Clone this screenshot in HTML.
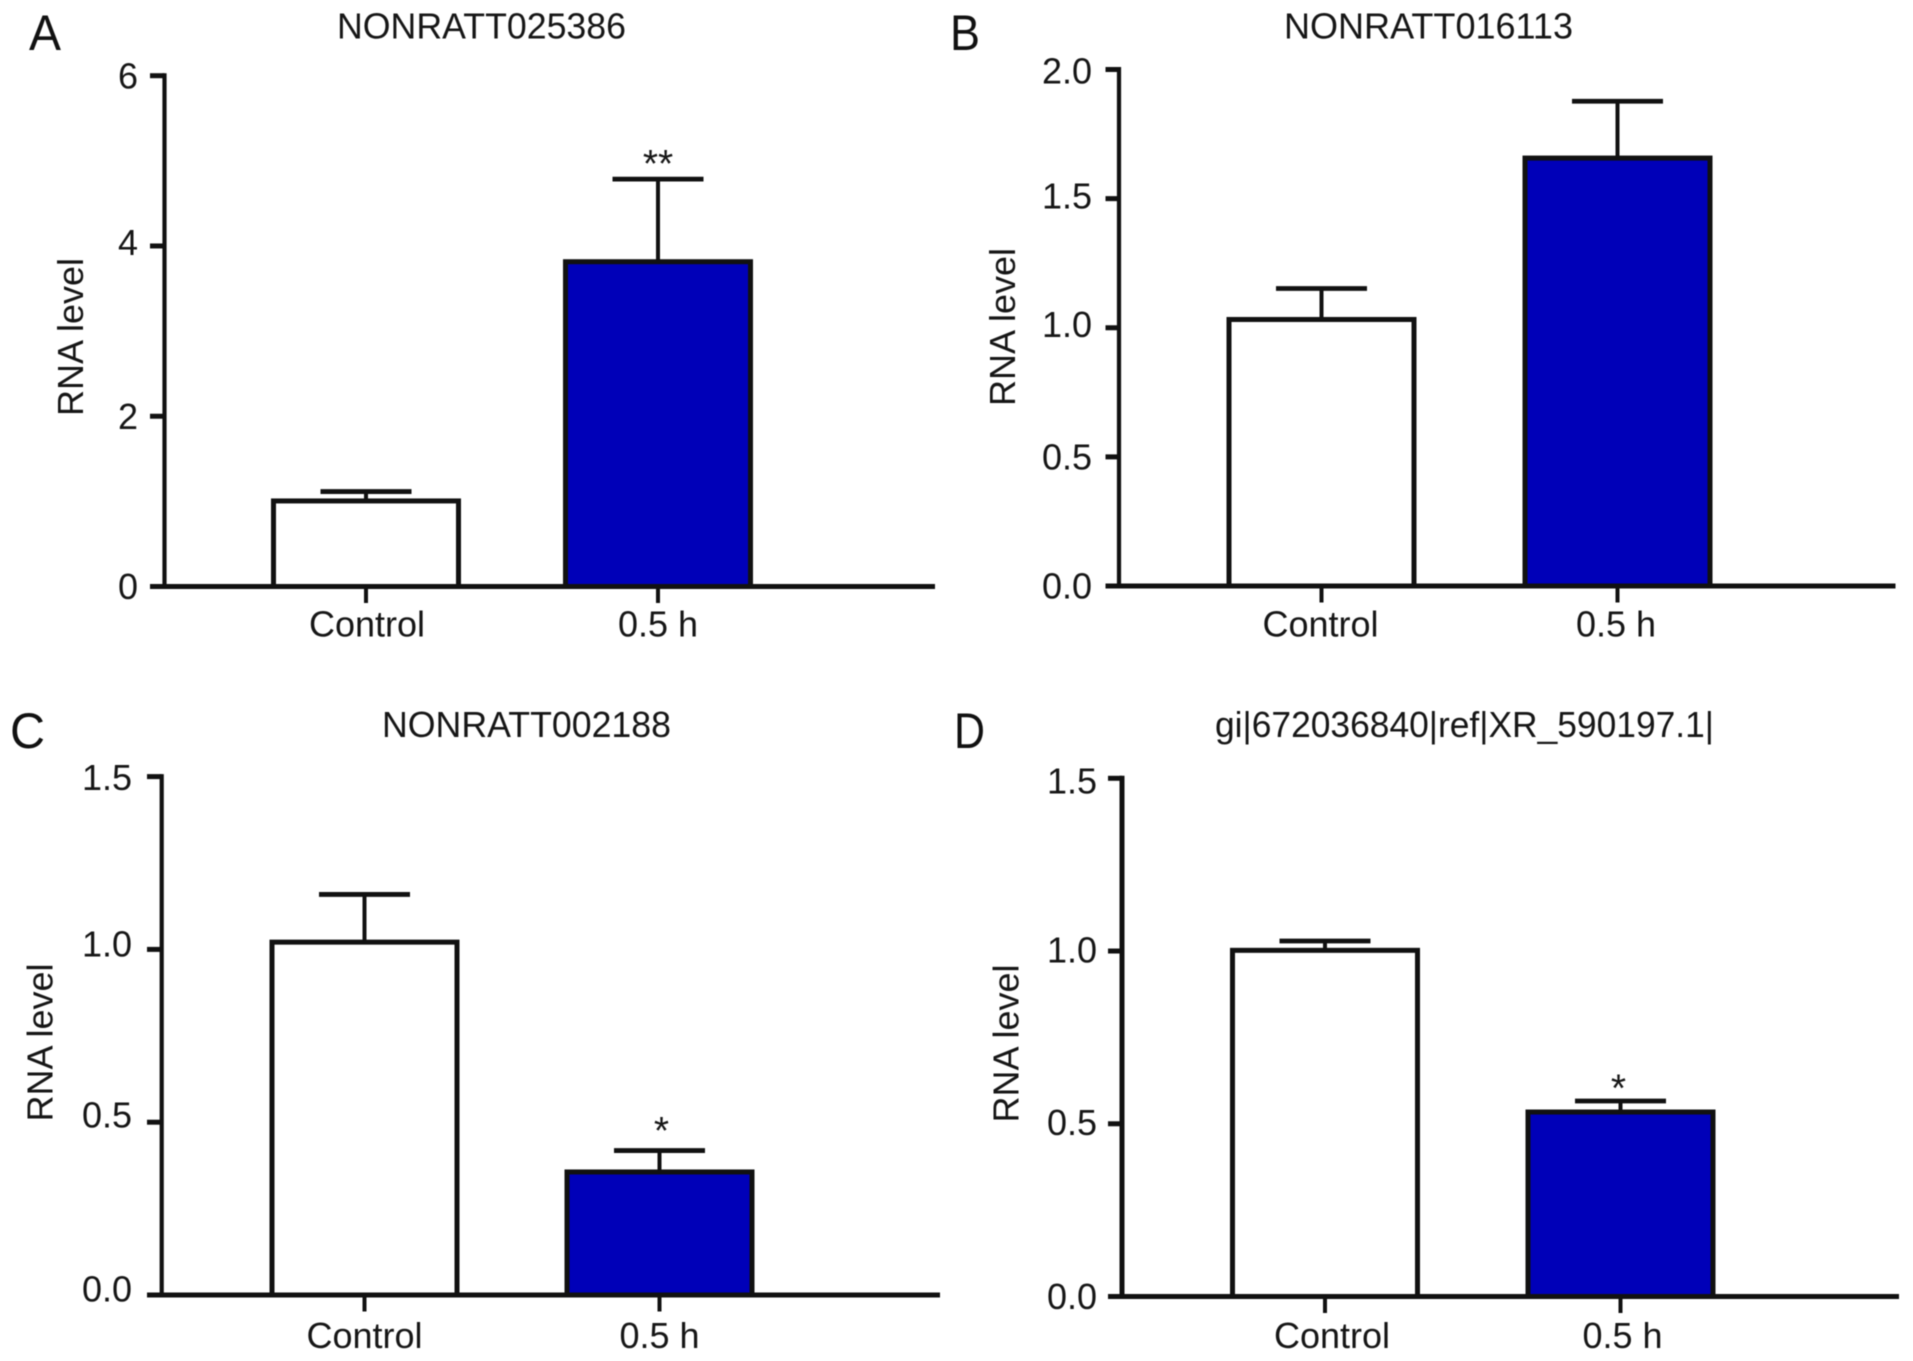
<!DOCTYPE html>
<html lang="en">
<head>
<meta charset="utf-8">
<title>RNA level bar charts</title>
<style>
  html, body { margin: 0; padding: 0; background: #ffffff; }
  body { width: 1913px; height: 1361px; overflow: hidden; }
  svg { display: block; filter: blur(0.55px); }
  text { font-family: "Liberation Sans", sans-serif; fill: #161616; font-size: 36px; }
  .panel-letter { font-size: 50px; fill: #111; }
  .chart-title { font-size: 36.5px; }
</style>
</head>
<body>
<svg id="figure" xmlns="http://www.w3.org/2000/svg" width="1913" height="1361" viewBox="0 0 1913 1361">
  <rect x="0" y="0" width="1913" height="1361" fill="#ffffff"/>

  <text class="panel-letter" x="29" y="50" textLength="32" lengthAdjust="spacingAndGlyphs">A</text>
  <text class="panel-letter" x="950" y="50" textLength="30" lengthAdjust="spacingAndGlyphs">B</text>
  <text class="panel-letter" x="10" y="748" textLength="35" lengthAdjust="spacingAndGlyphs">C</text>
  <text class="panel-letter" x="954" y="748" textLength="31" lengthAdjust="spacingAndGlyphs">D</text>

  <text class="chart-title" x="337" y="38.5" textLength="289" lengthAdjust="spacingAndGlyphs">NONRATT025386</text>
  <text class="chart-title" x="1284" y="38.5" textLength="289" lengthAdjust="spacingAndGlyphs">NONRATT016113</text>
  <text class="chart-title" x="382" y="737" textLength="289" lengthAdjust="spacingAndGlyphs">NONRATT002188</text>
  <text class="chart-title" x="1215" y="737" textLength="499" lengthAdjust="spacingAndGlyphs">gi|672036840|ref|XR_590197.1|</text>

  <text text-anchor="middle" transform="translate(83 337) rotate(-90)">RNA level</text>
  <text text-anchor="middle" transform="translate(1015 327) rotate(-90)">RNA level</text>
  <text text-anchor="middle" transform="translate(52.5 1042.5) rotate(-90)">RNA level</text>
  <text text-anchor="middle" transform="translate(1018.5 1043.5) rotate(-90)">RNA level</text>
</svg>

<script>
// ---- chart data ----
const categories = ['Control', '0.5 h'];

const ticksA = [0, 2, 4, 6];
const tickLabelsA = ['0', '2', '4', '6'];
const meansA = [1.005, 3.815];
const errorTopsA = [1.115, 4.785];
const starsA = ['', '**'];

const ticksB = [0, 0.5, 1, 1.5, 2];
const tickLabelsB = ['0.0', '0.5', '1.0', '1.5', '2.0'];
const meansB = [1.032, 1.657];
const errorTopsB = [1.152, 1.877];
const starsB = ['', ''];

const ticksC = [0, 0.5, 1, 1.5];
const tickLabelsC = ['0.0', '0.5', '1.0', '1.5'];
const meansC = [1.021, 0.356];
const errorTopsC = [1.159, 0.418];
const starsC = ['', '*'];

const ticksD = [0, 0.5, 1, 1.5];
const tickLabelsD = ['0.0', '0.5', '1.0', '1.5'];
const meansD = [1.002, 0.534];
const errorTopsD = [1.029, 0.566];
const starsD = ['', '*'];

const barFills = ['#ffffff', '#0000b8'];

// ---- panel layout (geometry only; values come from the arrays above) ----
const panels = [
  { key: 'a', ticks: ticksA, labels: tickLabelsA, means: meansA, tops: errorTopsA, stars: starsA,
    axisX: 164.5, left: 150, right: 935, top: 75.7, base: 586.5, slot0: 366, slotStep: 292,
    labelRight: 138, tickNudge: [12.5, 13, 9, 13], xLabelY: 636.5, xNudge: [1, 0], starNudge: -2, stroke: 4.2 },
  { key: 'b', ticks: ticksB, labels: tickLabelsB, means: meansB, tops: errorTopsB, stars: starsB,
    axisX: 1119, left: 1105.5, right: 1895.5, top: 69.5, base: 586, slot0: 1321.5, slotStep: 296,
    labelRight: 1092, tickNudge: [12.5, 12.5, 9, 10, 14], xLabelY: 636.5, xNudge: [-1, -1.5], starNudge: 0, stroke: 4.2 },
  { key: 'c', ticks: ticksC, labels: tickLabelsC, means: meansC, tops: errorTopsC, stars: starsC,
    axisX: 161.7, left: 147, right: 940, top: 776.6, base: 1295, slot0: 364.5, slotStep: 295,
    labelRight: 132, tickNudge: [6.5, 5.5, 7, 13.5], xLabelY: 1348, xNudge: [0, 0], starNudge: -6.5, stroke: 4.2 },
  { key: 'd', ticks: ticksD, labels: tickLabelsD, means: meansD, tops: errorTopsD, stars: starsD,
    axisX: 1122, left: 1108, right: 1899, top: 778.3, base: 1296.5, slot0: 1325, slotStep: 295.5,
    labelRight: 1097, tickNudge: [12.5, 11, 11.5, 15], xLabelY: 1348, xNudge: [7, 2], starNudge: 0.5, stroke: 5 }
];

const BAR_WIDTH = 185;
const CAP_HALF = 45.5;
const INK = '#111111';
const svg = document.getElementById('figure');

function make(tag, attrs, text) {
  const node = document.createElementNS('http://www.w3.org/2000/svg', tag);
  for (const k in attrs) node.setAttribute(k, attrs[k]);
  if (text !== undefined) node.textContent = text;
  svg.appendChild(node);
  return node;
}

panels.forEach(function (p) {
  const maxTick = p.ticks[p.ticks.length - 1];
  const yScale = function (v) { return p.base - (v / maxTick) * (p.base - p.top); };
  const xScale = function (i) { return p.slot0 + i * p.slotStep; };
  let el;

  // bars and error bars
  categories.forEach(function (cat, i) {
    const cx = xScale(i);
    const yTop = yScale(p.tops[i]);
    const yMean = yScale(p.means[i]);

    el = make('line', { x1: cx, x2: cx, y1: yMean, y2: yTop, stroke: INK, 'stroke-width': 4 });
    
    

    el = make('line', { x1: cx - CAP_HALF, x2: cx + CAP_HALF, y1: yTop, y2: yTop, stroke: INK, 'stroke-width': 4.8 });
    
    

    el = make('rect', { x: cx - BAR_WIDTH / 2, y: yMean, width: BAR_WIDTH, height: p.base - yMean,
      fill: barFills[i], stroke: INK, 'stroke-width': 5 });
    
    

    if (p.stars[i]) {
      el = make('text', { x: cx + (p.key === 'a' ? 0 : (p.key === 'd' ? -2 : 2)), y: yTop + p.starNudge, 'text-anchor': 'middle', style: 'font-size:39px' }, p.stars[i]);
      
      
    }

    el = make('line', { x1: cx, x2: cx, y1: p.base, y2: p.base + 16.5, stroke: INK, 'stroke-width': 4 });
    
    

    el = make('text', { x: cx + p.xNudge[i], y: p.xLabelY, 'text-anchor': 'middle' }, cat);
    
    
  });

  // y axis
  el = make('line', { x1: p.axisX, x2: p.axisX, y1: p.top - 2.5, y2: p.base, stroke: INK, 'stroke-width': p.stroke });
  
  

  // x axis
  el = make('line', { x1: p.left, x2: p.right, y1: p.base, y2: p.base, stroke: INK, 'stroke-width': 5 });
  
  

  // y ticks and labels
  p.ticks.forEach(function (t, i) {
    const y = yScale(t);
    el = make('line', { x1: p.left, x2: p.axisX, y1: y, y2: y, stroke: INK, 'stroke-width': 5 });
    
    

    el = make('text', { x: p.labelRight, y: y + p.tickNudge[i], 'text-anchor': 'end' }, p.labels[i]);
    
    
  });
});
</script>
</body>
</html>
